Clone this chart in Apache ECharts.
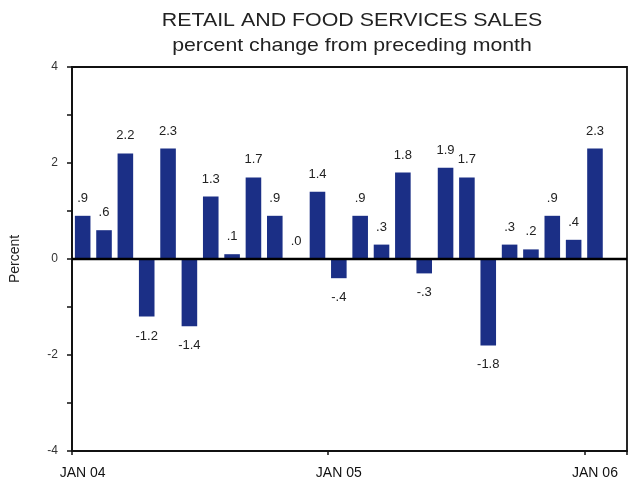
<!DOCTYPE html>
<html>
<head>
<meta charset="utf-8">
<script src="https://cdn.jsdelivr.net/npm/echarts@6/dist/echarts.min.js"></script>
<style>
  html, body { margin: 0; padding: 0; background: #fff; }
  #chart { width: 637px; height: 487px; }
</style>
</head>
<body>
<div id="chart"></div>
<script>
// Monthly categories; the axis runs one month past the last reported value
var months = [
  'JAN 04', 'FEB 04', 'MAR 04', 'APR 04', 'MAY 04', 'JUN 04',
  'JUL 04', 'AUG 04', 'SEP 04', 'OCT 04', 'NOV 04', 'DEC 04',
  'JAN 05', 'FEB 05', 'MAR 05', 'APR 05', 'MAY 05', 'JUN 05',
  'JUL 05', 'AUG 05', 'SEP 05', 'OCT 05', 'NOV 05', 'DEC 05',
  'JAN 06', 'FEB 06'
];

// Percent change from preceding month
var pctChange = [
  0.9, 0.6, 2.2, -1.2, 2.3, -1.4, 1.3, 0.1, 1.7, 0.9, 0.0, 1.4,
  -0.4, 0.9, 0.3, 1.8, -0.3, 1.9, 1.7, -1.8, 0.3, 0.2, 0.9, 0.4, 2.3
];

// Y axis range and labelled ticks
var yMin = -4, yMax = 4, yStep = 1;
var yLabelled = [-4, -2, 0, 2, 4];

var titleText = 'RETAIL AND FOOD SERVICES SALES';
var subtitleText = 'percent change from preceding month';

function fmtValue(v) {
  var s = Math.abs(v).toFixed(1).replace(/^0\./, '.');
  return (v < 0 ? '-' : '') + s;
}

var FONT = 'Liberation Sans, Arial, sans-serif';

var barData = pctChange.map(function (v) {
  return v < 0
    ? { value: v, label: { position: 'bottom', distance: 13 } }
    : { value: v, label: { position: 'top', distance: 11 } };
});

var chart = echarts.init(document.getElementById('chart'), null, { renderer: 'canvas' });

chart.setOption({
  backgroundColor: '#ffffff',
  animation: false,
  textStyle: { fontFamily: FONT },
  graphic: [
    {
      type: 'text', x: 352, y: 21, scaleX: 1.125, silent: true,
      style: {
        text: titleText, fontSize: 19, fontFamily: FONT, fill: '#222',
        align: 'center', verticalAlign: 'middle'
      }
    },
    {
      type: 'text', x: 352, y: 46, scaleX: 1.12, silent: true,
      style: {
        text: subtitleText, fontSize: 19, fontFamily: FONT, fill: '#222',
        align: 'center', verticalAlign: 'middle'
      }
    }
  ],
  grid: {
    left: 68, right: 10, top: 67, bottom: 36,
    show: true, borderColor: '#111', borderWidth: 1.8, backgroundColor: 'transparent'
  },
  xAxis: {
    type: 'category',
    data: months,
    boundaryGap: true,
    axisLine: { onZero: false, lineStyle: { color: '#111', width: 1.8 } },
    axisTick: {
      show: true, length: 4, inside: false,
      interval: function (i) { return i % 12 === 0 && i <= 24; },
      lineStyle: { color: '#111', width: 1.5 }
    },
    axisLabel: {
      interval: function (i) { return i % 12 === 0 && i <= 24; },
      margin: 15, fontSize: 14, color: '#111'
    },
    splitLine: { show: false }
  },
  yAxis: {
    type: 'value',
    min: yMin, max: yMax, interval: yStep,
    name: 'Percent',
    nameLocation: 'middle',
    nameGap: 50,
    nameRotate: 90,
    nameTextStyle: { fontSize: 14, color: '#222' },
    axisLine: { show: true, lineStyle: { color: '#111', width: 1.8 } },
    axisTick: { show: true, length: 5, lineStyle: { color: '#111', width: 1.5 } },
    axisLabel: {
      margin: 14, fontSize: 12, color: '#333',
      formatter: function (v) { return yLabelled.indexOf(v) >= 0 ? String(v) : ''; }
    },
    splitLine: { show: false }
  },
  series: [
    {
      type: 'bar',
      data: barData,
      barCategoryGap: '27%',
      itemStyle: { color: '#1b2f86' },
      label: {
        show: true,
        fontSize: 13,
        color: '#222',
        formatter: function (p) { return fmtValue(p.value); }
      },
      markLine: {
        silent: true,
        symbol: 'none',
        label: { show: false },
        lineStyle: { color: '#000', width: 2.4, type: 'solid' },
        data: [{ yAxis: 0 }]
      }
    }
  ]
});
</script>
</body>
</html>
